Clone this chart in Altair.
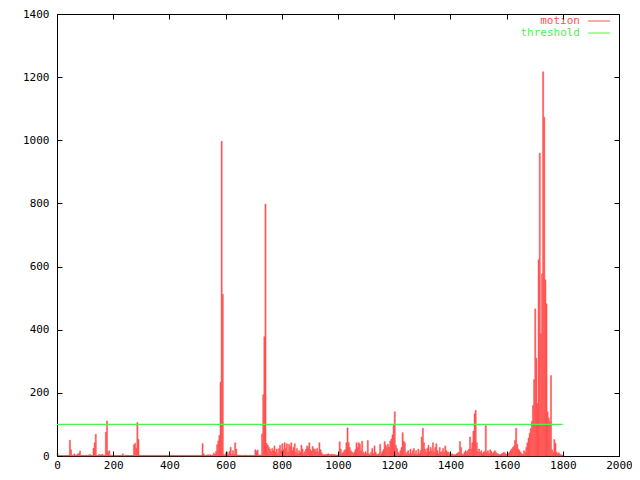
import altair as alt
import pandas as pd

# motion values, one every 4 frames, in blocks of 100 frames
seg0 = [8, 2, 2, 2, 2, 2, 2, 2, 2, 2, 2, 50, 20, 2, 2, 7, 2, 3, 6, 9, 16, 2, 2, 2, 2]
seg1 = [2, 2, 2, 4, 4, 2, 2, 25, 42, 69, 2, 2, 5, 2, 5, 5, 2, 2, 75, 111, 12, 17, 2, 2, 2]
seg2 = [2, 2, 2, 2, 2, 2, 2, 2, 7, 2, 2, 3, 2, 2, 2, 2, 2, 2, 36, 40, 25, 106, 53, 2, 2]
seg3 = [2, 2, 2, 2, 2, 2, 2, 2, 2, 2, 2, 2, 2, 2, 2, 2, 2, 2, 3, 2, 2, 2, 2, 2, 2]
seg4 = [2, 2, 3, 2, 2, 2, 2, 2, 2, 2, 2, 2, 2, 2, 2, 2, 2, 2, 2, 2, 2, 2, 2, 2, 2]
seg5 = [2, 2, 2, 2, 39, 7, 2, 2, 3, 4, 3, 4, 2, 3, 9, 5, 14, 36, 48, 65, 234, 997, 512, 5, 3]
seg6 = [10, 12, 5, 15, 28, 5, 17, 5, 42, 22, 3, 2, 3, 2, 2, 2, 2, 3, 2, 2, 2, 2, 2, 2, 2]
seg7 = [2, 20, 14, 19, 3, 2, 3, 70, 194, 378, 798, 40, 35, 28, 22, 14, 24, 17, 32, 12, 22, 7, 24, 34, 17]
seg8 = [39, 20, 42, 24, 39, 12, 37, 30, 42, 17, 27, 39, 12, 24, 7, 17, 12, 34, 22, 7, 14, 22, 32, 27, 42]
seg9 = [20, 15, 30, 22, 22, 14, 24, 12, 42, 20, 10, 4, 5, 4, 5, 6, 7, 4, 5, 6, 4, 5, 4, 3, 2]
seg10 = [5, 45, 22, 7, 12, 17, 20, 42, 89, 42, 27, 17, 12, 7, 12, 20, 42, 27, 42, 37, 17, 47, 12, 7, 14]
seg11 = [7, 49, 7, 4, 12, 24, 7, 32, 12, 5, 5, 7, 37, 7, 14, 20, 46, 34, 27, 37, 27, 47, 54, 67, 97]
seg12 = [140, 34, 24, 12, 7, 17, 27, 74, 47, 42, 7, 12, 17, 5, 22, 7, 17, 24, 7, 17, 5, 22, 7, 17, 60]
seg13 = [88, 42, 22, 12, 24, 34, 14, 27, 17, 42, 12, 27, 39, 17, 7, 27, 12, 14, 24, 12, 32, 17, 12, 12, 7]
seg14 = [5, 7, 4, 4, 4, 7, 9, 12, 46, 27, 7, 4, 12, 17, 12, 17, 22, 60, 22, 42, 79, 134, 145, 42, 14]
seg15 = [22, 12, 17, 7, 12, 14, 97, 12, 17, 7, 20, 14, 7, 12, 17, 12, 7, 7, 4, 5, 7, 9, 12, 10, 5]
seg16 = [5, 7, 12, 17, 22, 27, 32, 50, 88, 37, 22, 17, 12, 7, 5, 17, 12, 27, 42, 57, 72, 87, 110, 160, 242]
seg17 = [466, 310, 166, 622, 959, 387, 577, 1217, 1073, 558, 482, 140, 120, 110, 255, 20, 12, 52, 40, 12, 7, 10, 5, 4, 3]

motion = (seg0 + seg1 + seg2 + seg3 + seg4 + seg5 + seg6 + seg7 + seg8 + seg9
          + seg10 + seg11 + seg12 + seg13 + seg14 + seg15 + seg16 + seg17)
frames = list(range(0, 4 * len(motion), 4))

threshold_x = [0, 1800]
threshold_y = [100, 100]

x_ticks = [0, 200, 400, 600, 800, 1000, 1200, 1400, 1600, 1800, 2000]
y_ticks = [0, 200, 400, 600, 800, 1000, 1200, 1400]

series_names = ["motion", "threshold"]

RED = "#ff5050"
GREEN = "#50f050"
FONT = "DejaVu Sans Mono"

df = pd.DataFrame({"frame": frames, "motion": motion})
thr = pd.DataFrame({"frame": threshold_x, "value": threshold_y})

xs = alt.Scale(domain=[0, 2000], nice=False, zero=False)
ys = alt.Scale(domain=[0, 1400], nice=False)


def axis(orient, ticks, labels):
    kw = dict(orient=orient, values=ticks, offset=-5, tickSize=5, domain=False,
              grid=False, tickColor="black", tickWidth=1, title=None, zindex=1,
              labels=labels)
    if labels:
        kw.update(labelFont=FONT, labelFontSize=11, labelColor="black",
                  labelFlush=False, labelOverlap=False, format="d")
        if orient == "bottom":
            kw.update(labelPadding=3, labelBaseline="top")
        else:
            kw.update(labelPadding=8, labelBaseline="middle")
    return alt.Axis(**kw)


bars = alt.Chart(df).transform_calculate(
    frame_end="datum.frame + 4"
).mark_bar(color=RED, opacity=1, stroke=RED, strokeWidth=0.5).encode(
    x=alt.X("frame:Q", scale=xs, axis=axis("bottom", x_ticks, True)),
    x2="frame_end:Q",
    y=alt.Y("motion:Q", scale=ys, axis=axis("left", y_ticks, True)),
    y2=alt.datum(0),
)

line = alt.Chart(thr).mark_line(color=GREEN, strokeWidth=1.2).encode(
    x=alt.X("frame:Q", scale=xs, axis=axis("top", x_ticks, False)),
    y=alt.Y("value:Q", scale=ys, axis=axis("right", y_ticks, False)),
)

leg_motion_text = alt.Chart(pd.DataFrame({"name": [series_names[0]]})).mark_text(
    align="right", baseline="middle", font=FONT, fontSize=11, color=RED
).encode(x=alt.value(523), y=alt.value(7), text="name:N")
leg_thr_text = alt.Chart(pd.DataFrame({"name": [series_names[1]]})).mark_text(
    align="right", baseline="middle", font=FONT, fontSize=11, color=GREEN
).encode(x=alt.value(523), y=alt.value(19), text="name:N")
leg_motion_line = alt.Chart(pd.DataFrame({"name": [series_names[0]]})).mark_rule(
    color=RED, strokeWidth=1
).encode(x=alt.value(531), x2=alt.value(553), y=alt.value(7))
leg_thr_line = alt.Chart(pd.DataFrame({"name": [series_names[1]]})).mark_rule(
    color=GREEN, strokeWidth=1
).encode(x=alt.value(531), x2=alt.value(553), y=alt.value(19))

chart = alt.layer(
    bars, line, leg_motion_text, leg_thr_text, leg_motion_line, leg_thr_line
).resolve_axis(x="independent", y="independent").properties(
    width=562,
    height=442,
    autosize=alt.AutoSizeParams(type="none"),
    padding={"left": 49, "top": 6, "right": 13, "bottom": 16},
    background="white",
).configure_view(stroke="black", strokeWidth=1)

chart.save("out.html", embed_options={"renderer": "svg", "actions": False})
